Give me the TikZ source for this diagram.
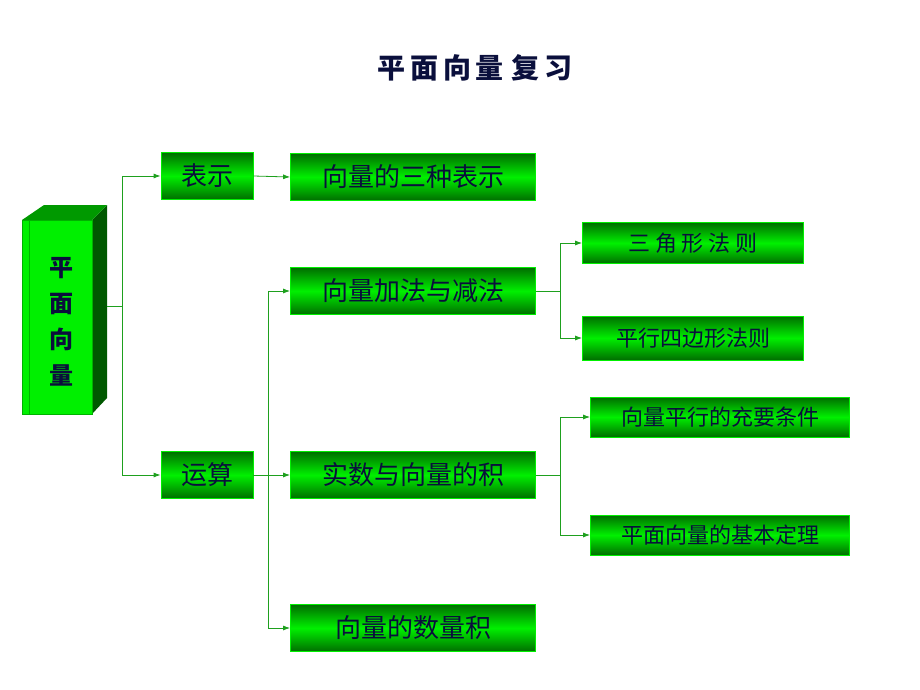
\documentclass[tikz,border=0pt]{standalone}
\usepackage{fontspec}
\setmainfont{Noto Sans CJK SC}
\usetikzlibrary{arrows.meta}
\definecolor{ink}{RGB}{10,15,60}
\definecolor{lime}{RGB}{0,240,0}
\definecolor{dkgreen}{RGB}{0,110,0}
\definecolor{wire}{RGB}{30,160,30}
\tikzset{
  box/.style={draw=lime, line width=0.8pt, top color=dkgreen, bottom color=dkgreen,
    middle color=lime, text=ink, inner sep=0pt},
  wire/.style={draw=wire, line width=0.8pt},
  to/.style={wire, -{Latex[length=7pt,width=5pt]}}
}
\begin{document}
\begin{tikzpicture}[x=1pt,y=-1pt]
  \useasboundingbox (0,0) rectangle (920,690);
  % title
  \node[text=ink, font=\bfseries\fontsize{28}{30}\selectfont] (title) at (475,68) {平\,面\,向\,量\;复\,习};
  % 3d block
  \fill[dkgreen!80!black] (92,220) -- (107,205) -- (107,398) -- (92,414) -- cycle;
  \fill[green!60!black] (22,220) -- (44,205) -- (107,205) -- (92,220) -- cycle;
  \fill[lime] (22,220) rectangle (92,414);
  \draw[green!70!black, line width=0.6pt] (29,220) -- (29,414) (22,220) rectangle (92,414);
  \node[text=ink, font=\bfseries\fontsize{24}{36}\selectfont, align=center] (root) at (61,322) {平\\面\\向\\量};
  \coordinate (rootE) at (107,306);
  % boxes
  \node[box, minimum width=92, minimum height=47, font=\fontsize{26}{28}\selectfont] (rep) at (207,176) {表示};
  \node[box, minimum width=92, minimum height=47, font=\fontsize{26}{28}\selectfont] (ops) at (207,475) {运算};
  \node[box, minimum width=245, minimum height=47, font=\fontsize{26}{28}\selectfont] (three) at (413,177) {向量的三种表示};
  \node[box, minimum width=245, minimum height=47, font=\fontsize{26}{28}\selectfont] (add) at (413,291) {向量加法与减法};
  \node[box, minimum width=245, minimum height=47, font=\fontsize{26}{28}\selectfont] (scal) at (413,475) {实数与向量的积};
  \node[box, minimum width=245, minimum height=47, font=\fontsize{26}{28}\selectfont] (dot) at (413,628) {向量的数量积};
  \node[box, minimum width=221, minimum height=41, font=\fontsize{22}{24}\selectfont] (tri) at (693,243) {三\ 角\ 形\ 法\ 则};
  \node[box, minimum width=221, minimum height=44, font=\fontsize{22}{24}\selectfont] (para) at (693,338) {平行四边形法则};
  \node[box, minimum width=259, minimum height=40, font=\fontsize{22}{24}\selectfont] (cond) at (720,417) {向量平行的充要条件};
  \node[box, minimum width=259, minimum height=40, font=\fontsize{22}{24}\selectfont] (thm) at (720,535) {平面向量的基本定理};
  % connectors
  \draw[wire] (rootE) -- (122,306);
  \draw[to] (122,306) |- (rep.west);
  \draw[to] (122,306) |- (ops.west);
  \draw[to] (rep.east) -- (three.west);
  \draw[to] (ops.east) -- (scal.west);
  \draw[to] (268,475) |- (add.west);
  \draw[to] (268,475) |- (dot.west);
  \draw[wire] (add.east) -- (560,291);
  \draw[to] (560,291) |- (tri.west);
  \draw[to] (560,291) |- (para.west);
  \draw[wire] (scal.east) -- (560,475);
  \draw[to] (560,475) |- (cond.west);
  \draw[to] (560,475) |- (thm.west);
\end{tikzpicture}
\end{document}
